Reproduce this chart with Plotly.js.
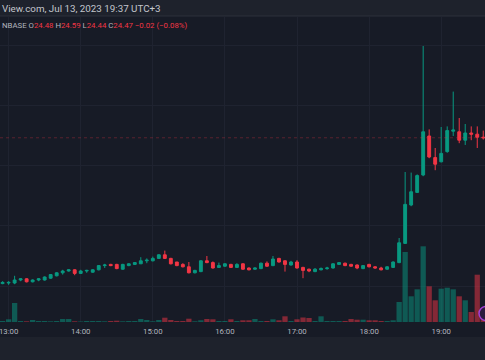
<!DOCTYPE html>
<html>
<head>
<meta charset="utf-8">
<script src="https://cdn.plot.ly/plotly-3.0.1.min.js"></script>
<style>html,body{margin:0;padding:0;background:#171b26;}#chart{width:485px;height:360px;}</style>
</head>
<body>
<div id="chart"></div>
<script>
const day = "2023-07-13";
const times = ["12:55","13:00","13:05","13:10","13:15","13:20","13:25","13:30","13:35","13:40",
"13:45","13:50","13:55","14:00","14:05","14:10","14:15","14:20","14:25","14:30",
"14:35","14:40","14:45","14:50","14:55","15:00","15:05","15:10","15:15","15:20",
"15:25","15:30","15:35","15:40","15:45","15:50","15:55","16:00","16:05","16:10",
"16:15","16:20","16:25","16:30","16:35","16:40","16:45","16:50","16:55","17:00",
"17:05","17:10","17:15","17:20","17:25","17:30","17:35","17:40","17:45","17:50",
"17:55","18:00","18:05","18:10","18:15","18:20","18:25","18:30","18:35","18:40",
"18:45","18:50","18:55","19:00","19:05","19:10","19:15","19:20","19:25","19:30","19:35"];
const openP = [22.04,22.05,22.05,22.10,22.12,22.07,22.10,22.10,22.13,22.17,
22.22,22.25,22.27,22.21,22.25,22.23,22.27,22.34,22.36,22.36,
22.28,22.34,22.36,22.37,22.42,22.42,22.46,22.52,22.46,22.40,
22.36,22.32,22.22,22.24,22.42,22.39,22.31,22.33,22.36,22.31,
22.37,22.30,22.28,22.29,22.38,22.34,22.46,22.42,22.35,22.40,
22.31,22.28,22.24,22.27,22.29,22.30,22.36,22.38,22.36,22.35,
22.29,22.36,22.32,22.30,22.28,22.31,22.39,22.71,23.35,23.56,
23.85,24.50,24.14,24.07,24.24,24.58,24.57,24.43,24.55,24.53,24.48];
const highP = [22.08,22.08,22.17,22.13,22.13,22.11,22.13,22.16,22.20,22.23,
22.27,22.28,22.28,22.27,22.27,22.28,22.35,22.37,22.37,22.37,
22.37,22.38,22.40,22.48,22.46,22.49,22.53,22.59,22.47,22.40,
22.38,22.40,22.27,22.43,22.50,22.41,22.39,22.38,22.37,22.38,
22.38,22.31,22.31,22.39,22.41,22.50,22.47,22.43,22.42,22.43,
22.32,22.29,22.30,22.31,22.32,22.38,22.40,22.39,22.37,22.36,
22.35,22.37,22.33,22.32,22.33,22.41,22.80,23.90,23.89,23.86,
26.00,24.61,24.30,24.65,24.66,25.24,24.80,24.70,24.66,24.66,24.59];
const lowP = [22.03,22.02,22.03,22.08,22.06,22.06,22.08,22.09,22.12,22.16,
22.19,22.24,22.18,22.20,22.22,22.22,22.26,22.30,22.33,22.28,
22.27,22.33,22.35,22.37,22.38,22.41,22.45,22.45,22.36,22.33,
22.31,22.21,22.21,22.23,22.38,22.29,22.30,22.32,22.30,22.30,
22.27,22.26,22.27,22.28,22.32,22.33,22.39,22.24,22.34,22.29,
22.13,22.23,22.23,22.26,22.27,22.29,22.35,22.33,22.32,22.28,
22.28,22.31,22.29,22.26,22.27,22.30,22.38,22.70,23.33,23.55,
23.83,24.13,23.93,24.06,24.22,24.50,24.38,24.35,24.43,24.30,24.44];
const closeP = [22.06,22.06,22.10,22.12,22.07,22.10,22.12,22.15,22.19,22.22,
22.25,22.27,22.21,22.25,22.26,22.27,22.34,22.35,22.34,22.29,
22.36,22.37,22.39,22.42,22.43,22.46,22.52,22.46,22.37,22.34,
22.32,22.22,22.26,22.42,22.39,22.30,22.34,22.37,22.31,22.36,
22.28,22.27,22.30,22.38,22.33,22.45,22.40,22.36,22.40,22.30,
22.26,22.25,22.28,22.29,22.30,22.37,22.39,22.34,22.33,22.30,
22.34,22.32,22.30,22.27,22.32,22.40,22.72,23.36,23.57,23.84,
24.57,24.15,24.03,24.21,24.59,24.60,24.43,24.55,24.53,24.48,24.47];
const volumeK = [10,27,190,10,7,20,10,10,7,10,
30,30,7,5,10,10,10,7,10,13,
7,10,10,30,20,7,20,43,20,10,
10,33,7,17,30,27,10,10,27,10,
17,17,30,10,10,27,17,57,10,27,
45,40,10,57,10,10,10,10,30,23,
23,17,17,10,10,17,200,700,257,327,
757,357,217,333,343,327,257,217,100,473,80];
const hourTicks = ["13:00","14:00","15:00","16:00","17:00","18:00","19:00"];
const priceGrid = [22,23,24,25,26];
const lastPrice = 24.47;
const headerText = "View.com, Jul 13, 2023 19:37 UTC+3";
const symbolText = "NBASE";
const ohlcLabels = ["O","H","L","C"];
const ohlcValues = ["24.48","24.59","24.44","24.47"];
const changeText = "\u22120.02 (\u22120.08%)";

const UP = "#089981", DOWN = "#f23645";
const xs = times.map(t => day + " " + t);
const volColors = closeP.map((c, i) => c >= openP[i] ? "rgba(8,153,129,0.5)" : "rgba(242,54,69,0.5)");

const traces = [
  {type: "bar", x: xs, y: volumeK, marker: {color: volColors, line: {width: 0}}, yaxis: "y", hoverinfo: "skip"},
  {type: "candlestick", x: xs, open: openP, high: highP, low: lowP, close: closeP, yaxis: "y2",
   increasing: {line: {color: UP, width: 1}, fillcolor: UP},
   decreasing: {line: {color: DOWN, width: 1}, fillcolor: DOWN},
   whiskerwidth: 0, hoverinfo: "skip"}
];

const PLOT_TOP = 17, PLOT_BOTTOM = 322, H = 360, W = 485;
const py = p => (PLOT_BOTTOM - p) / (PLOT_BOTTOM - PLOT_TOP);
const gray = "#b2b5be";
let line2 = symbolText;
ohlcLabels.forEach((l, i) => { line2 += " " + l + '<span style="color:' + DOWN + '">' + ohlcValues[i] + '</span>'; });
line2 += ' <span style="color:' + DOWN + '">' + changeText + '</span>';

const layout = {
  width: W, height: H,
  margin: {l: 0, r: 0, t: PLOT_TOP, b: H - PLOT_BOTTOM, pad: 0},
  paper_bgcolor: "#171b26", plot_bgcolor: "#171b26",
  showlegend: false, bargap: 0.12, boxgap: 0.32,
  font: {family: "Roboto, sans-serif", color: gray},
  xaxis: {type: "date", range: [day + " 12:52:50", day + " 19:36:27"],
    tickvals: hourTicks.map(t => day + " " + t), ticktext: hourTicks,
    tickfont: {size: 7.8, color: gray}, ticks: "", ticklabelstandoff: 3, ticklabeloverflow: "allow",
    showgrid: true, gridcolor: "#1f2330", gridwidth: 1,
    zeroline: false, showline: false, rangeslider: {visible: false}, fixedrange: true},
  yaxis: {range: [0, 3050], visible: false, showgrid: false, zeroline: false, fixedrange: true},
  yaxis2: {overlaying: "y", side: "right", range: [21.4, 26.483], tickvals: priceGrid,
    showticklabels: false, ticks: "", showgrid: true, gridcolor: "#1f2330", zeroline: false, fixedrange: true},
  shapes: [
    {type: "rect", xref: "paper", yref: "paper", x0: 0, x1: 1, y0: py(16), y1: py(-5), fillcolor: "#1e222c", line: {width: 0}},
    {type: "line", xref: "paper", yref: "paper", x0: 0, x1: 1, y0: py(16), y1: py(16), line: {color: "#2c303b", width: 1}},
    {type: "rect", xref: "paper", yref: "paper", x0: 0, x1: 1, y0: py(337), y1: py(365), fillcolor: "#1e222c", line: {width: 0}},
    {type: "line", xref: "paper", yref: "y2", x0: 0, x1: 1, y0: lastPrice, y1: lastPrice, line: {color: "rgba(242,54,69,0.3)", width: 1, dash: "dot"}},
    {type: "circle", xref: "paper", yref: "paper", x0: 479/W, x1: 493/W, y0: py(320.5), y1: py(306.5), fillcolor: "#2b1b3d", line: {color: "#a23fd6", width: 1.5}}
  ],
  annotations: [
    {xref: "paper", yref: "paper", x: 0, y: py(8.5), xanchor: "left", yanchor: "middle", showarrow: false,
     text: headerText, font: {size: 9.8, color: "#c3c6cc"}},
    {xref: "paper", yref: "paper", x: 0, y: py(25.5), xanchor: "left", yanchor: "middle", showarrow: false,
     text: line2, font: {size: 7.8, color: gray}}
  ]
};
Plotly.newPlot("chart", traces, layout, {staticPlot: true, displayModeBar: false});
</script>
</body>
</html>
